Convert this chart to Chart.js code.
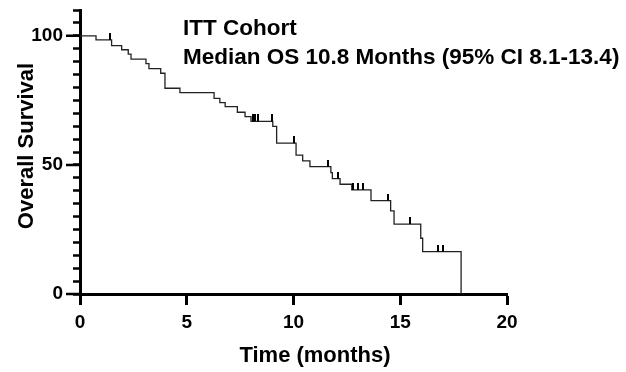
<!DOCTYPE html>
<html>
<head>
  <title>Overall Survival - ITT Cohort</title>
  <script src="https://cdn.jsdelivr.net/npm/chart.js"></script>
  <style>body { margin: 0; background: #fff; }</style>
</head>
<body>
  <canvas id="osChart" width="626" height="372"></canvas>

  <script>
    // Kaplan-Meier: time of each drop (months) and survival after it (%)
    const eventTimes = [0, 0.75, 1.48, 1.95, 2.26, 2.39, 3.09, 3.23, 3.78, 3.98, 4.68,
      6.28, 6.55, 6.8, 7.37, 7.73, 8.01, 9.03, 9.21, 10.12, 10.43, 10.77,
      11.75, 11.82, 12.18, 12.73, 13.63, 14.55, 14.71, 15.96, 16.05, 17.85];
    const survival = [100, 98.4, 96.2, 94.6, 92.9, 91.0, 89.2, 87.3, 85.5, 79.7, 78.0,
      75.8, 74.1, 72.6, 70.4, 68.7, 66.9, 64.9, 58.4, 53.8, 51.6, 49.3,
      47.0, 44.7, 42.5, 40.3, 36.2, 32.2, 27.1, 21.6, 16.4, 0];

    // censored patients (tick marks)
    const censorTimes = [1.4, 8.1, 8.22, 8.34, 8.98, 10.02, 11.6, 12.1, 12.8, 13.0, 13.27, 14.44, 15.46, 16.75, 17.02];
    const censorSurv = [98.4, 66.9, 66.9, 66.9, 66.9, 58.4, 49.3, 44.7, 40.3, 40.3, 40.3, 36.2, 27.1, 16.4, 16.4];

    const yLabels = [0, 50, 100];
    const xTitle = 'Time (months)';
    const yTitle = 'Overall Survival';
    const cohortText = 'ITT Cohort';
    const medianText = 'Median OS 10.8 Months (95% CI 8.1-13.4)';

    const fuente = '"Liberation Sans", Arial, sans-serif';

    // small vertical tick sitting on top of the curve
    const censorMark = document.createElement('canvas');
    censorMark.width = 2;
    censorMark.height = 14;
    const cm = censorMark.getContext('2d');
    cm.fillStyle = '#000';
    cm.fillRect(0, 0, 2, 7);

    const curva = eventTimes.map((t, i) => ({ x: t, y: survival[i] }));
    const censuras = censorTimes.map((t, i) => ({ x: t, y: censorSurv[i] }));

    // longer ticks at 0/50/100, annotation and axis titles
    const textos = {
      id: 'textos',
      afterDraw(chart) {
        const ctx = chart.ctx;
        const escalaY = chart.scales.y;
        const izq = chart.chartArea.left;
        ctx.save();
        ctx.strokeStyle = '#000';
        ctx.lineWidth = 2.5;
        ctx.beginPath();
        yLabels.forEach((v) => {
          const py = escalaY.getPixelForValue(v);
          ctx.moveTo(izq - 14, py);
          ctx.lineTo(izq, py);
        });
        ctx.stroke();

        ctx.fillStyle = '#000';
        ctx.font = 'bold 22.5px ' + fuente;
        ctx.textAlign = 'left';
        ctx.textBaseline = 'alphabetic';
        ctx.fillText(cohortText, 183, 35);
        ctx.fillText(medianText, 183, 63.5);
        ctx.font = 'bold 22px ' + fuente;
        ctx.textAlign = 'center';
        ctx.fillText(xTitle, 315, 361.5);
        ctx.translate(33, 146);
        ctx.rotate(-Math.PI / 2);
        ctx.fillText(yTitle, 0, 0);
        ctx.restore();
      }
    };

    new Chart(document.getElementById('osChart'), {
      type: 'line',
      data: {
        datasets: [
          {
            type: 'scatter',
            data: censuras,
            pointStyle: censorMark,
            pointRadius: 3,
            showLine: false
          },
          {
            data: curva,
            stepped: true,
            borderColor: '#222',
            borderWidth: 1.3,
            pointRadius: 0,
            fill: false
          }
        ]
      },
      options: {
        responsive: false,
        animation: false,
        layout: { padding: { left: 0, top: 10, right: 119, bottom: 0 } },
        plugins: { legend: { display: false }, tooltip: { enabled: false } },
        scales: {
          x: {
            type: 'linear',
            min: 0,
            max: 20,
            ticks: { stepSize: 5, color: '#000', padding: 6, font: { family: fuente, size: 19, weight: 'bold' } },
            grid: { drawOnChartArea: false, tickLength: 11, tickWidth: 3, tickColor: '#000' },
            border: { color: '#000', width: 3 },
            afterFit: (s) => { s.height = 78; s.paddingLeft = 0; s.paddingRight = 0; }
          },
          y: {
            min: 0,
            max: 110,
            ticks: {
              stepSize: 5,
              autoSkip: false,
              color: '#000',
              padding: 10,
              font: { family: fuente, size: 19, weight: 'bold' },
              callback: (v) => yLabels.includes(v) ? v : ''
            },
            grid: { drawOnChartArea: false, tickLength: 7, tickWidth: 2.5, tickColor: '#000' },
            border: { color: '#000', width: 3 },
            afterFit: (s) => { s.width = 80; s.paddingTop = 0; s.paddingBottom = 0; }
          }
        }
      },
      plugins: [textos]
    });
  </script>
</body>
</html>
